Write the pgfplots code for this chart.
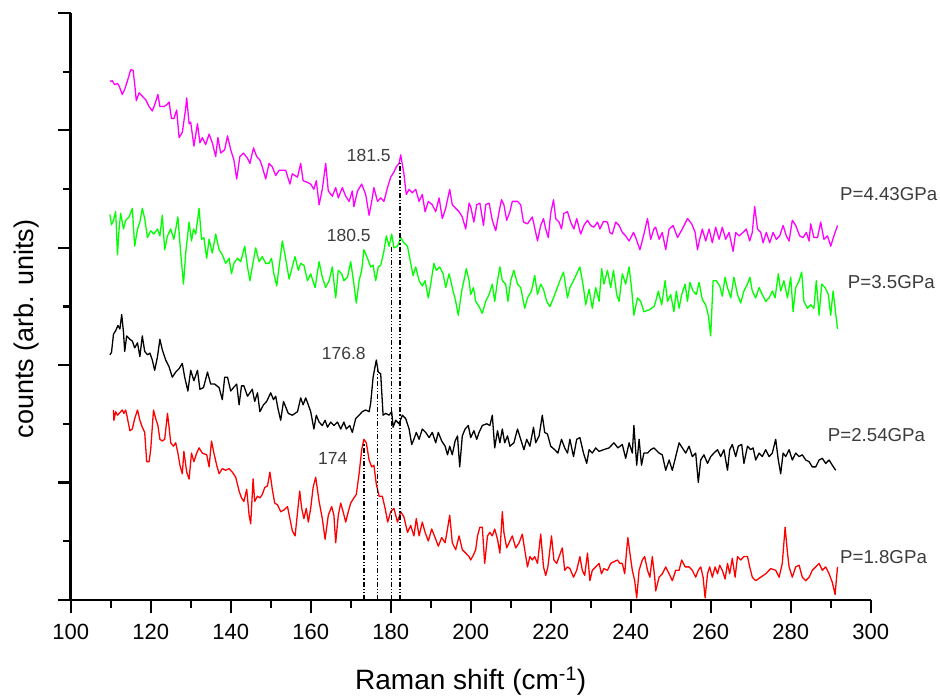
\documentclass[border=0pt]{standalone}
\usepackage{fontspec}
\setmainfont{Liberation Sans}
\usepackage{pgfplots}
\pgfplotsset{compat=1.18}
\definecolor{cmag}{RGB}{255,0,255}
\definecolor{cgreen}{RGB}{0,255,0}
\definecolor{cred}{RGB}{255,0,0}
\definecolor{ctext}{RGB}{60,60,60}
\begin{document}
\begin{tikzpicture}
\useasboundingbox (-70.7pt,-98pt) rectangle (869.3pt,600pt);
\begin{axis}[
  at={(0,0)}, anchor=south west,
  width=800pt, height=587pt, scale only axis,
  xmin=100, xmax=300, ymin=0, ymax=587,
  axis x line*=bottom, axis y line*=left,
  axis line style={line width=2.4pt, -},
  x axis line style={-}, y axis line style={-},
  xtick={100,120,...,300}, minor x tick num=1,
  ytick={0,117.4,234.8,352.2,469.6,587},
  minor ytick={58.7,176.1,293.5,410.9,528.3},
  yticklabels={},
  tick align=outside, major tick length=12.7pt, minor tick length=7.7pt,
  every tick/.style={black, line width=2.2pt},
  tick label style={font=\fontsize{22}{26}\selectfont},
  /pgf/number format/assume math mode=true,
  xticklabel style={anchor=base, yshift=-27pt},
  xlabel={Raman shift (cm\textsuperscript{-1})},
  ylabel={counts (arb. units)},
  every axis x label/.style={at={(axis description cs:0.5,-0.1533)}, anchor=base, font=\fontsize{28}{32}\selectfont},
  every axis y label/.style={at={(axis description cs:-0.0468,0.462)}, anchor=base, rotate=90, font=\fontsize{27}{31}\selectfont},
  clip=false,
  every axis plot/.append style={line width=1.3pt, line join=round},
]
% P = 4.43 GPa
\addplot[cmag] coordinates {
(109.8,518.6) (110.4,519.3) (111,515.2) (111.7,516.6) (112.1,514.1) (112.9,505.5) (113.5,510.7) (114.2,519.3)
(115,530.3) (115.6,529.7) (116,515.9) (116.4,499.3) (117.1,507.2) (117.9,503.8) (118.75,500.3) (119.6,493.4)
(120.4,489) (121,495.2) (121.8,505.5) (122.3,493.4) (123.3,493.4) (124,495.2) (124.6,497.9) (125.2,481.4)
(125.8,481.4) (126.5,490) (127.1,462.4) (127.9,467.6) (128.75,491.7) (129,502.1) (129.6,476.2) (130,477.9)
(130.8,453.8) (131.7,476.2) (132.3,457.2) (132.9,462.4) (133.75,455.5) (134.6,465.9) (135.4,457.2) (136.25,443.4)
(136.8,462.4) (137.5,446.9) (138.5,450.3) (139.2,464.1) (140,450.3) (140.8,440) (141.5,421) (142.3,443.4)
(143.2,446.9) (144.2,441.7) (144.8,436.6) (145.7,452.1) (146.5,443.4) (147.3,440) (147.9,433.1) (148.75,421)
(149.6,436.6) (150.4,433.1) (151.25,424.5) (152.1,429.7) (152.9,429.7) (153.75,429.7) (154.8,415.9) (155.4,426.2)
(156.7,422.8) (157.5,436.6) (158.1,419.3) (159.2,417.6) (160,415.9) (160.8,410.7) (161.4,419.3) (162.1,395.2)
(162.9,410.7) (163.75,436.6) (164.4,409) (165.4,403.8) (166.25,412.4) (166.9,402.1) (167.9,412.4) (168.75,403.8)
(169.6,398.6) (170.4,409) (170.8,393.4) (171.7,409) (172.75,415.9) (173.75,405.5) (174.6,384.8) (175.25,398.6)
(175.8,412.4) (176.7,398.6) (177.5,402.1) (178.3,398.6) (179.2,412.4) (180,422.8) (180.8,427.9) (181.4,433.1)
(182.1,436.6) (182.5,445.2) (183.3,426.2) (183.9,405.5) (184.6,410.7) (185.4,407.2) (186.25,410.7) (187.1,398.6)
(187.9,405.5) (188.6,388.3) (189.4,398.6) (190.4,395.2) (191.25,388.3) (192.1,402.1) (192.9,381.4) (193.75,391.7)
(194.75,410.7) (195.4,395.2) (196.25,391.7) (197.1,388.3) (197.9,383.1) (198.75,371) (199.6,396.9) (200,393.4)
(200.8,377.9) (201.5,395.2) (202.3,396.9) (203.2,374.5) (203.75,395.2) (204.6,396.9) (205.4,379.7) (206.25,369.3)
(207.1,388.3) (207.7,400.3) (208.3,395.2) (209,379.7) (209.8,388.3) (210.4,398.6) (211.7,398.6) (212.5,395.2)
(213.2,377.9) (214.2,376.2) (215.4,383.1) (216.25,367.6) (216.7,359) (217.5,374.5) (218.2,381.4) (218.75,371)
(219.4,362.4) (220,386.6) (220.7,400.3) (221.25,381.4) (222.1,377.9) (222.7,371) (223.3,386.6) (224.2,388.3)
(225,377.9) (225.8,371) (226.5,381.4) (227.5,365.9) (228.3,374.5) (229.2,379.7) (230,374.5) (230.8,372.8)
(231.7,377.9) (232.3,371) (233.2,378.6) (234.2,377.9) (234.8,367.6) (235.4,365.9) (236.25,377.9) (237.1,374.5)
(237.9,367.6) (238.75,364.1) (239.6,359) (240.7,367.6) (241.25,362.4) (242.3,350.3) (243.2,364.1) (244.2,381.4)
(245,360.7) (245.8,371) (246.25,372.8) (247.1,360.7) (247.9,367.6) (248.75,350.3) (249.6,371) (250.6,374.5)
(251.7,362.4) (252.9,371) (254.2,381.4) (255.25,376.2) (256.1,367.6) (256.7,350.3) (257.25,360.7) (257.9,371)
(258.75,359) (259.6,371) (260.4,357.2) (261.25,372.8) (262.1,360.7) (262.9,372.8) (263.75,360.7) (264.6,367.6)
(265.6,348.6) (266.25,367.6) (267.1,364.1) (268.1,367.6) (268.9,371) (269.75,359) (270.4,367.6) (271,393.4)
(271.7,371) (272.5,367.6) (273.1,357.2) (273.9,367.6) (274.75,357.2) (275.6,367.6) (276.4,360.7) (277.25,364.1)
(278.1,374.5) (278.9,364.1) (279.6,359) (280.4,379.7) (281.25,374.5) (282.25,364.1) (283.1,362.4) (283.9,367.6)
(284.6,359) (285,376.2) (285.8,362.4) (286.7,362.4) (287.5,377.9) (288.3,360.7) (289.2,364.1) (290,353.8)
(290.8,364.1) (291.7,374.5)
};
% P = 3.5 GPa
\addplot[cgreen] coordinates {
(109.8,385.5) (110.2,375.2) (110.7,379.7) (111.25,388.3) (111.7,345.2) (112.1,371) (112.5,386.6) (113.2,371)
(113.75,379.7) (114.6,383.1) (115.4,391.7) (116,353.8) (116.7,371) (117.3,377.9) (117.9,391.7) (118.5,381.4)
(119.2,362.4) (120,369.3) (120.8,365.9) (121.7,371) (122.3,364.1) (122.9,384.8) (123.5,350.3) (124.2,364.1)
(125,371) (125.8,360.7) (126.8,383.1) (127.5,346.9) (128.2,315.9) (128.75,346.9) (129.6,377.9) (130.2,359)
(130.7,371) (131.25,365.9) (132.1,391.7) (132.7,360.7) (133.3,362.4) (134,341.7) (134.6,360.7) (135.4,346.9)
(136.25,365.9) (137.1,350.3) (137.9,345.2) (138.75,336.6) (139.6,341.7) (140.2,326.2) (140.8,336.6) (141.7,341.7)
(142.5,338.3) (143.5,353.8) (144.2,333.1) (144.8,319.3) (145.4,333.1) (146.25,352.1) (147.1,338.3) (147.9,343.4)
(148.75,336.6) (149.6,336.6) (150.2,341.7) (150.8,326.2) (151.5,314.1) (152.1,333.1) (152.9,359) (153.5,346.9)
(154.6,321) (155.4,333.1) (156.1,343.4) (156.9,329.7) (157.5,336.6) (158.3,334.8) (159.2,319.3) (160,326.2)
(161.1,312.4) (162.1,338.3) (162.9,322.8) (163.75,312.4) (164.6,319.3) (165.4,333.1) (166.25,302.1) (166.9,329.7)
(167.75,326.2) (168.3,319.3) (169.2,322.8) (170,338.3) (170.8,315.9) (171.4,296.9) (172.1,319.3) (172.75,329.7)
(173.3,350.3) (174.2,341.7) (175,333.1) (175.6,334.8) (176.25,319.3) (176.9,333.1) (177.5,334.8) (178.3,348.6)
(178.9,364.1) (179.6,353.8) (180.25,365.9) (180.8,352.1) (181.7,353.8) (182.5,362.4) (183.3,357.2) (184.2,353.8)
(185,336.6) (185.6,324.5) (186.25,333.1) (187.1,319.3) (187.9,314.1) (188.6,319.3) (189.4,302.1) (190,315.9)
(190.8,336.6) (191.4,329.7) (192.25,333.1) (193.1,326.2) (193.75,312.4) (194.6,326.2) (195.4,312.4) (196.25,298.6)
(196.9,284.8) (197.75,309) (198.3,319.3) (198.9,331.4) (199.6,319.3) (200,305.5) (200.7,312.4) (201.25,298.6)
(202.1,293.4) (202.9,286.6) (203.75,298.6) (204.6,305.5) (205.4,315.9) (206,298.6) (206.7,319.3) (207.3,333.1)
(207.9,319.3) (208.75,315.9) (209.3,298.6) (210,319.3) (210.8,329.7) (211.7,315.9) (212.5,312.4) (213.5,291.7)
(214.2,302.1) (215.2,309) (216,324.5) (216.7,305.5) (217.5,315.9) (218.2,310.7) (219,298.6) (219.8,293.4)
(220.7,302.1) (221.5,310.7) (222.3,319.3) (223.2,327.9) (224.2,302.1) (224.8,312.4) (225.7,319.3) (226.5,326.2)
(227.3,333.1) (228.2,312.4) (228.75,295.2) (229.6,310.7) (230.4,291.7) (231.25,312.4) (232.1,298.6) (232.75,331.4)
(233.3,315.9) (234.2,329.7) (235,312.4) (235.7,329.7) (236.5,305.5) (237.1,298.6) (237.9,326.2) (238.75,315.9)
(239.6,333.1) (240.2,312.4) (240.8,284.8) (241.7,302.1) (242.5,298.6) (243.3,288.3) (244.6,290) (245.8,293.4)
(246.25,298.6) (246.9,308.9) (247.75,295.2) (248.6,319.3) (249.2,298.6) (250,305.5) (250.8,288.3) (251.4,308.9)
(252.1,291.7) (252.75,305.5) (253.6,315.9) (254.2,298.6) (254.8,317.6) (255.6,308.9) (256.4,305.5) (257.1,317.6)
(257.9,300.3) (258.75,295.2) (259.4,284.8) (260,264.1) (260.6,319.3) (261.4,319.3) (262.25,314.1) (262.9,303.8)
(263.6,322.8) (264.2,312.4) (265,302.1) (265.8,322.8) (266.7,305.5) (267.5,296.9) (268.3,309) (269.2,315.9)
(269.8,322.8) (270.4,309) (271.25,302.1) (272.1,312.4) (272.9,305.5) (273.75,298.6) (274.6,302.1) (275.4,309)
(276.1,302.1) (276.9,326.2) (277.5,309) (278.3,319.3) (279.2,302.1) (280,322.8) (280.6,288.3) (281.25,312.4)
(282.1,319.3) (282.75,327.9) (283.3,298.6) (284.2,291.7) (285,295.2) (285.8,291.7) (286.4,319.3) (287.1,284.8)
(287.75,315.9) (288.6,312.4) (289.4,305.5) (290,284.8) (290.6,309) (291.1,291.7) (291.7,271)
};
% P = 2.54 GPa
\addplot[black] coordinates {
(109.8,245.2) (110.2,247.6) (110.7,265.9) (111.25,269.3) (111.8,274.5) (112.3,271) (112.75,285.5) (113.2,267.6)
(113.5,248.6) (114,264.1) (114.8,260.7) (115.4,259) (116,252.1) (116.7,257.2) (117.3,243.4) (117.9,264.1)
(118.5,248.6) (119.2,245.2) (119.8,246.9) (120.4,240) (121,229.7) (121.7,243.4) (122.3,260.7) (122.9,250.3)
(123.75,240) (124.6,233.1) (125.4,222.8) (126.25,227.9) (127.1,231.4) (127.9,236.6) (128.5,222.8) (129.3,209)
(130,229.7) (130.8,219.3) (131.7,229.7) (132.3,210.7) (133.2,212.4) (134.2,227.9) (135,215.9) (136,215.9)
(137.1,212.4) (137.9,200.3) (138.5,222.8) (139.2,222.8) (140,209) (140.7,212.4) (141.5,215.9) (142.1,195.2)
(142.7,214.1) (143.3,214.1) (144.2,203.8) (144.8,207.2) (145.4,210.7) (146,198.6) (146.7,207.2) (147.3,188.3)
(148.2,195.2) (149,198.6) (150,207.2) (150.7,200.3) (151.25,203.8) (151.8,191.7) (152.5,179.7) (153.2,198.6)
(154.4,186.6) (155.4,184.8) (156.7,188.3) (157.5,202.1) (158.1,195.2) (158.75,202.1) (159.4,195.2) (160,188.3)
(160.8,171) (161.4,184.8) (162.1,177.9) (162.9,174.5) (163.6,179.7) (164.2,172.8) (165,177.9) (165.8,174.5)
(166.7,177.9) (167.5,171) (168.3,177.9) (168.9,171) (169.75,174.5) (170.4,167.6) (171.25,181.4) (172.1,184.8)
(172.9,188.3) (173.75,190) (174.6,188.3) (175,196.9) (175.6,222.8) (176.4,240) (176.9,227.9) (177.5,226.2)
(178.1,184.8) (178.75,186.6) (179.6,184.8) (180.25,188.3) (180.6,172.8) (181.25,179.7) (182.1,176.2) (182.9,184.8)
(183.75,181.4) (184.6,171) (185.25,155.5) (185.8,160.7) (186.4,167.6) (187.1,160.7) (187.9,171) (188.75,167.6)
(189.6,162.4) (190.4,167.6) (191.25,157.2) (191.9,167.6) (192.75,159) (193.6,153.8) (194.2,145.2) (194.75,153.8)
(195.4,145.2) (196.1,159) (196.7,164.1) (197.25,133.1) (197.9,164.1) (198.6,171) (199.4,174.5) (200,162.4)
(200.8,169.3) (201.5,160.7) (202.1,167.6) (202.9,174.5) (204,176.2) (204.8,174.5) (205.4,184.8) (206,152.1)
(206.7,169.3) (207.3,157.2) (207.9,171) (208.5,157.2) (209.2,164.1) (209.8,153.8) (210.8,157.2) (211.7,171)
(212.5,160.7) (213.3,150.3) (214,160.7) (214.8,153.8) (215.7,172.8) (216.25,157.2) (217.1,164.1) (217.9,184.8)
(218.5,167.6) (219.2,165.9) (220,153.8) (221,150.3) (221.8,146.9) (222.7,160.7) (223.5,152.1) (224.2,146.9)
(224.8,160.7) (225.7,143.4) (226.5,160.7) (227.3,162.4) (228.2,146.9) (229,136.6) (229.6,150.3) (230.4,146.9)
(231.25,152.1) (232.1,148.6) (233.2,150.3) (234.6,152.1) (235.8,157.2) (236.8,152.1) (237.9,155.5) (238.75,141.7)
(239.6,157.2) (240.4,146.9) (240.8,174.5) (241.5,134.8) (242.1,160.7) (242.7,134.8) (243.3,146.9) (244.2,146.9)
(245,150.3) (245.8,152.1) (246.25,150.3) (247.1,146.9) (247.9,145.2) (248.75,129.7) (249.6,140) (250.4,129.7)
(251.25,143.4) (252.1,157.2) (252.9,152.1) (253.75,146.9) (254.6,153.8) (255.4,143.4) (256.25,146.9) (256.9,117.6)
(257.5,140) (258.3,145.2) (259.2,136.6) (260,143.4) (260.8,146.9) (261.7,150.3) (262.5,143.4) (263.3,150.3)
(264.2,129.7) (264.75,150.3) (265.4,155.5) (266.25,143.4) (266.9,153.8) (267.75,155.5) (268.3,136.6) (269.2,153.8)
(270,150.3) (270.6,152.1) (271.25,140) (272.1,146.9) (272.9,143.4) (273.75,150.3) (274.6,143.4) (275.4,146.9)
(276.25,160.7) (276.9,140) (277.5,126.2) (278.1,146.9) (278.75,143.4) (279.6,150.3) (280.4,140) (281.25,146.9)
(282.1,143.4) (282.9,145.2) (283.75,140) (284.6,138.3) (285.4,133.1) (286.25,133.1) (287.1,140) (287.9,141.7)
(288.75,136.6) (289.6,140) (290.4,134.8) (291.25,129.7)
};
% P = 1.8 GPa
\addplot[cred] coordinates {
(110.7,190) (110.8,179.7) (111.25,188.3) (111.7,184.8) (112.9,190) (113.3,186.6) (113.75,190) (114.2,181.4)
(114.8,169.3) (115.4,171) (116,181.4) (116.7,190) (117.3,179.7) (117.9,172.8) (118.5,167.6) (119,138.3)
(119.6,138.3) (120,150.3) (120.7,190) (121.25,181.4) (121.8,174.5) (122.3,160.7) (122.9,159) (123.5,160.7)
(124.2,186.6) (124.6,172.8) (125,157.2) (125.7,153.8) (126.25,157.2) (126.8,146.9) (127.3,134.8) (127.9,126.2)
(128.3,148.6) (129,127.9) (129.6,121) (130.2,146.9) (130.8,138.3) (131.5,146.9) (132.1,152.1) (132.9,146.9)
(134,145.2) (134.6,133.1) (135.2,159) (135.8,146.9) (136.5,134.8) (137.1,126.2) (137.9,131.4) (138.75,129.7)
(139.6,131.4) (140.4,127.9) (141.25,122.8) (142.1,109) (142.7,102.1) (143.3,98.6) (144,110.7) (144.6,84.8)
(145,76.2) (145.6,121) (146,98.6) (146.7,103.8) (147.3,102.1) (147.9,105.5) (148.5,112.4) (149.2,114.1)
(149.8,127.9) (150.4,110.7) (151,96.9) (151.7,95.2) (152.5,88.3) (153.3,90) (154.2,93.4) (155.4,69.3)
(156.1,64.1) (156.9,95.2) (157.25,109) (157.75,91.7) (158.3,81.4) (158.9,91.7) (159.4,77.9) (160,91.7)
(160.6,112.4) (161.25,122.8) (162.1,98.6) (162.9,81.4) (163.6,60.7) (164.4,84.8) (165.25,93.4) (165.8,84.8)
(166.25,57.2) (166.9,84.8) (167.5,96.9) (168.1,88.3) (168.75,77.9) (169.4,88.3) (170,96.9) (170.8,102.1)
(171.4,105.5) (172.1,126.2) (172.75,150.3) (173.3,160.7) (173.9,157.2) (174.6,140) (175.25,133.1) (175.8,134.8)
(176.4,115.9) (177.1,103.8) (177.9,103.8) (178.6,91.7) (179.25,77.9) (180,88.3) (180.8,91.7) (181.7,77.9)
(182.5,88.3) (183.3,83.1) (184.2,67.6) (185,74.5) (185.8,64.1) (186.4,81.4) (187.1,64.1) (187.9,77.9)
(188.6,67.6) (189.4,59) (190.25,71) (191.1,62.4) (191.9,53.8) (192.75,62.4) (193.6,57.2) (194.2,71)
(194.75,84.8) (195.4,57.2) (196.25,50.3) (197.1,64.1) (197.9,50.3) (198.75,46.9) (199.6,43.4) (200,40)
(200.7,45.2) (201.25,50.3) (201.7,64.1) (202.3,72.8) (202.9,72.8) (203.5,36.6) (204.2,64.1) (204.8,67.6)
(205.4,64.1) (206,71) (206.7,60.7) (207.3,46.9) (207.9,88.3) (208.3,67.6) (209,52.1) (209.6,57.2)
(210.4,64.1) (211.25,52.1) (212.1,57.2) (212.9,65.9) (213.5,50.3) (214.2,33.1) (214.8,43.4) (215.4,40)
(216,43.4) (216.7,36.6) (217.5,65.9) (218.2,33.1) (218.75,24.5) (219.3,33.1) (220.2,64.1) (220.8,40)
(221.5,36.6) (222.1,43.4) (222.9,52.1) (223.5,29.7) (224.2,33.1) (224.8,31.4) (225.7,22.8) (226.5,29.7)
(227.3,43.4) (227.9,29.7) (228.5,24.5) (229.2,46.9) (229.8,19.3) (230.4,29.7) (231.25,33.1) (232.1,36.6)
(232.7,26.2) (233.3,31.4) (234.2,29.7) (235,36.6) (235.8,38.3) (236.7,40) (237.3,36.6) (237.9,36.6)
(238.5,26.2) (239,50.3) (239.3,62.4) (239.8,46.9) (240.4,29.7) (241,19.3) (241.5,2.1) (242.1,29.7)
(242.9,40) (243.5,43.4) (244.2,29.7) (244.8,22.8) (245.4,43.4) (246,22.8) (246.25,9) (247.1,22.8)
(247.9,26.2) (248.75,33.1) (249.6,26.2) (250.4,19.3) (251.25,29.7) (252.1,29.7) (252.75,40) (253.6,33.1)
(254.6,33.1) (255.4,29.7) (256.25,22.8) (256.9,29.7) (257.5,33.1) (258.1,22.8) (258.6,2.1) (259.2,26.2)
(259.75,33.1) (260.4,22.8) (261.1,33.1) (261.7,26.2) (262.25,34.8) (262.9,29.7) (263.6,21) (264.2,36.6)
(264.75,26.2) (265.4,41.7) (266.1,22.8) (266.7,43.4) (267.5,40) (268.3,43.4) (269.2,43.4) (269.75,33.1)
(270.4,22.8) (271.25,19.3) (272.5,22.8) (273.75,26.2) (275,31.4) (276.25,29.7) (277.1,22.8) (277.9,36.6)
(278.6,72.8) (279.2,46.9) (279.6,33.1) (280.4,22.8) (281.25,33.1) (282.1,34.8) (282.9,22.8) (283.75,19.3)
(284.6,22.8) (285.4,29.7) (286.25,33.1) (287.1,36.6) (287.9,29.7) (288.75,33.1) (289.6,26.2) (290.4,17.6)
(291.1,5.5) (291.7,33.1)
};
% peak markers
\addplot[black, line width=1.2pt, dash pattern={on 5pt off 2pt on 1.2pt off 2pt on 1.2pt off 2pt}] coordinates {(173.3,0) (173.3,157)};
\addplot[black, line width=1.2pt, dash pattern={on 5pt off 2pt on 1.2pt off 2pt on 1.2pt off 2pt}] coordinates {(176.7,0) (176.7,232)};
\addplot[black, line width=1.2pt, dash pattern={on 5pt off 2pt on 1.2pt off 2pt on 1.2pt off 2pt}] coordinates {(180.1,0) (180.1,355)};
\addplot[black, line width=1.2pt, dash pattern={on 5pt off 2pt on 1.2pt off 2pt on 1.2pt off 2pt}] coordinates {(182.3,0) (182.3,438)};
\begin{scope}[every node/.style={inner sep=0pt, anchor=base west, text=ctext}]
\node[font=\fontsize{17.5}{20}\selectfont] at (axis cs:169,438) {181.5};
\node[font=\fontsize{17.5}{20}\selectfont] at (axis cs:164,358.3) {180.5};
\node[font=\fontsize{17.5}{20}\selectfont] at (axis cs:162.75,240) {176.8};
\node[font=\fontsize{17.5}{20}\selectfont] at (axis cs:161.8,135) {174};
\node[font=\fontsize{18.7}{22}\selectfont] at (axis cs:292.3,399.3) {P=4.43GPa};
\node[font=\fontsize{18.7}{22}\selectfont] at (axis cs:294.25,311.7) {P=3.5GPa};
\node[font=\fontsize{18.7}{22}\selectfont] at (axis cs:289.25,158.3) {P=2.54GPa};
\node[font=\fontsize{18.7}{22}\selectfont] at (axis cs:292.3,36.7) {P=1.8GPa};
\end{scope}
\end{axis}
\end{tikzpicture}
\end{document}
